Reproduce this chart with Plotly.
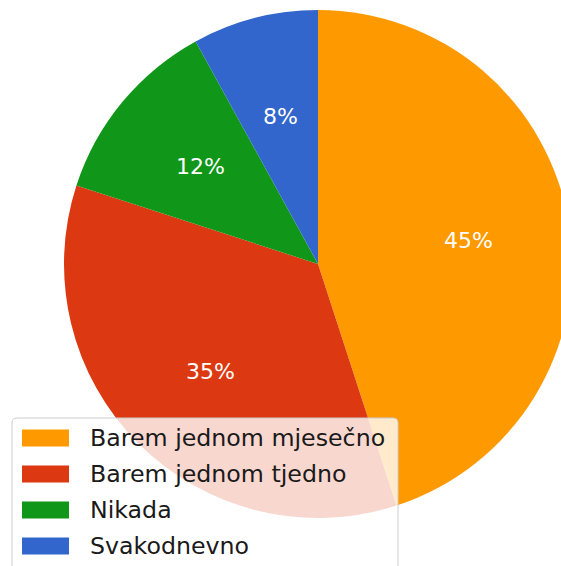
import math
import plotly.graph_objects as go

categories = ["Barem jednom mjesečno", "Barem jednom tjedno", "Nikada", "Svakodnevno"]
values = [45, 35, 12, 8]
colors = ["#FF9900", "#DC3912", "#109618", "#3366CC"]

W, H = 580, 580
OFF = 0
FONT = "DejaVu Sans"


def fx(sx):
    return (sx - OFF) / W


def fy(sy):
    return 1 - (sy - OFF) / H


# pie placement in screen pixels
cx_s, cy_s, r = 318, 264, 254
dom_x = [fx(cx_s - r), fx(cx_s + r)]
dom_y = [fy(cy_s + r), fy(cy_s - r)]

fig = go.Figure()
fig.add_trace(go.Pie(
    labels=categories, values=values, sort=False, direction="clockwise",
    rotation=0, marker=dict(colors=colors, line=dict(width=0)),
    textinfo="none", hoverinfo="skip", showlegend=False,
    domain=dict(x=dom_x, y=dom_y),
))

annotations = []
total = sum(values)
cum = 0
for v in values:
    ang = math.radians(90 - 360 * (cum + v / 2) / total)
    cum += v
    x = cx_s + 0.6 * r * math.cos(ang)
    y = cy_s - 0.6 * r * math.sin(ang)
    annotations.append(dict(
        x=fx(x), y=fy(y), xref="paper", yref="paper",
        text=f"{round(100 * v / total)}%", showarrow=False,
        font=dict(family=FONT, size=22, color="white"),
        xanchor="center", yanchor="middle",
    ))

# legend (matplotlib-style)
shapes = []
lx0, lx1, ly0, ly1, rad = 12, 398, 418, 600, 5
path = (f"M {fx(lx0)} {fy(ly0+rad)} Q {fx(lx0)} {fy(ly0)} {fx(lx0+rad)} {fy(ly0)} "
        f"L {fx(lx1-rad)} {fy(ly0)} Q {fx(lx1)} {fy(ly0)} {fx(lx1)} {fy(ly0+rad)} "
        f"L {fx(lx1)} {fy(ly1)} L {fx(lx0)} {fy(ly1)} Z")
shapes.append(dict(type="path", path=path, xref="paper", yref="paper",
                   fillcolor="rgba(255,255,255,0.8)", line=dict(color="#cccccc", width=1),
                   layer="above"))
row_y = [438, 474, 510, 546]
for cat, col, yy in zip(categories, colors, row_y):
    shapes.append(dict(type="rect", xref="paper", yref="paper",
                       x0=fx(22), x1=fx(69), y0=fy(yy - 8.5), y1=fy(yy + 8.5),
                       fillcolor=col, line=dict(width=0), layer="above"))
    annotations.append(dict(x=fx(88), y=fy(yy), xref="paper", yref="paper",
                            text=cat, showarrow=False, xanchor="left", yanchor="middle",
                            font=dict(family=FONT, size=23.7, color="#1a1a1a")))

fig.update_layout(
    width=W, height=H, margin=dict(l=0, r=0, t=0, b=0),
    paper_bgcolor="white", plot_bgcolor="white",
    shapes=shapes, annotations=annotations, showlegend=False,
)
fig.write_html(
    "out.html",
    config={"displayModeBar": False, "staticPlot": True},
    post_script=("document.body.style.margin='0';"
                 "document.body.style.overflow='hidden';"
                 "document.documentElement.style.overflow='hidden';"),
)
